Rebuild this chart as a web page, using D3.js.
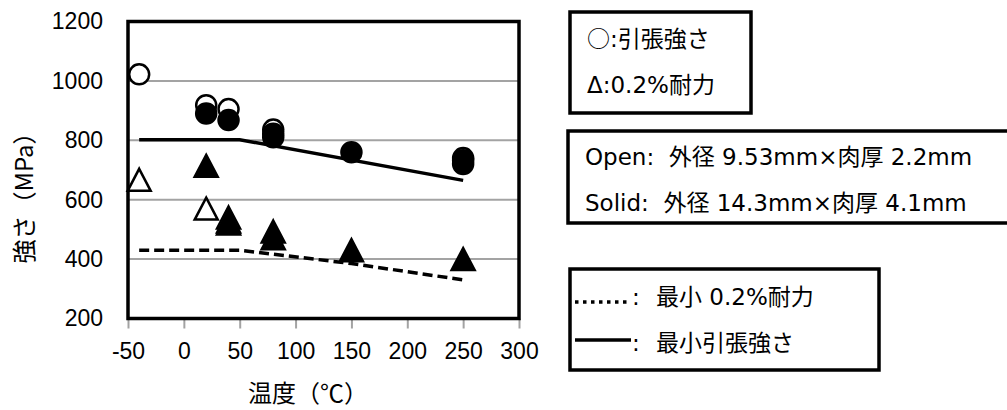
<!DOCTYPE html>
<html>
<head>
<meta charset="utf-8">
<script src="https://cdn.jsdelivr.net/npm/d3@7"></script>
<style>
  body { margin: 0; background: #fff; }
  svg { display: block; }
  text { white-space: pre; }
</style>
</head>
<body>
<svg id="svg" width="1007" height="410"></svg>
<script>
// measured points (temperature, MPa)
let openTensile = [{t: -40, v: 1022}, {t: 20, v: 918}, {t: 40, v: 905}, {t: 80, v: 836}, {t: 250, v: 740}];
let solidTensile = [{t: 20, v: 890}, {t: 40, v: 868}, {t: 80, v: 822}, {t: 80, v: 810}, {t: 150, v: 760}, {t: 250, v: 733}, {t: 250, v: 720}];
let openYield = [{t: -40, v: 667}, {t: 20, v: 570}, {t: 40, v: 540}];
let solidYield = [{t: 20, v: 714}, {t: 40, v: 527}, {t: 40, v: 520}, {t: 80, v: 493}, {t: 80, v: 470}, {t: 150, v: 430}, {t: 250, v: 400}];

// minimum spec lines
let minTensile = [{t: -40, v: 802}, {t: 50, v: 802}, {t: 250, v: 665}];
let minYield = [{t: -40, v: 430}, {t: 50, v: 430}, {t: 150, v: 385}, {t: 250, v: 330}];

let xTicks = [-50, 0, 50, 100, 150, 200, 250, 300];
let yTicks = [200, 400, 600, 800, 1000, 1200];
let gridValues = [400, 600, 800, 1000];

let legendMarks = [["○", ":引張強さ"], ["Δ", ":0.2%耐力"]];
let legendSizes = ["Open:  外径 9.53mm×肉厚 2.2mm", "Solid:  外径 14.3mm×肉厚 4.1mm"];
let legendLines = ["最小 0.2%耐力", "最小引張強さ"];

let svg = d3.select("svg");
let axisFont = "'Liberation Sans', Arial, sans-serif";
let jpFont = "'DejaVu Sans', 'Noto Sans CJK JP', sans-serif";
let cjkFont = "'Noto Sans CJK JP', sans-serif";

let x = d3.scaleLinear().domain([-50, 300]).range([128, 519]);
let y = d3.scaleLinear().domain([200, 1200]).range([318.5, 21.5]);

// gridlines
svg.append("g").selectAll("line")
  .data(gridValues)
  .enter().append("line")
    .attr("x1", x(-50)).attr("x2", x(300))
    .attr("y1", d => y(d)).attr("y2", d => y(d))
    .attr("stroke", "#a3a3a3")
    .attr("stroke-width", 2);

// x axis ticks + labels
let xAxis = svg.append("g")
  .attr("transform", "translate(0," + y(200) + ")")
  .call(d3.axisBottom(x).tickValues(xTicks).tickSize(10).tickPadding(14).tickFormat(d => String(d)));
xAxis.select(".domain").remove();
xAxis.selectAll(".tick line").attr("stroke", "#a3a3a3").attr("stroke-width", 2);
xAxis.selectAll(".tick text")
  .attr("font-family", axisFont).attr("font-size", 23).attr("fill", "#000");

// y axis labels
let yAxis = svg.append("g")
  .attr("transform", "translate(" + x(-50) + ",0)")
  .call(d3.axisLeft(y).tickValues(yTicks).tickSize(0).tickPadding(25).tickFormat(d => String(d)));
yAxis.select(".domain").remove();
yAxis.selectAll(".tick text")
  .attr("font-family", axisFont).attr("font-size", 23).attr("fill", "#000");

// frame
svg.append("rect")
  .attr("x", x(-50)).attr("y", y(1200))
  .attr("width", x(300) - x(-50)).attr("height", y(200) - y(1200))
  .attr("fill", "none").attr("stroke", "#000").attr("stroke-width", 3.5);

// axis titles
svg.append("text")
  .attr("x", 248).attr("y", 402)
  .attr("font-family", cjkFont).attr("font-size", 24)
  .text("温度（℃）");
svg.append("text")
  .attr("transform", "translate(33,192) rotate(-90)")
  .attr("text-anchor", "middle")
  .attr("font-family", cjkFont).attr("font-size", 24)
  .text("強さ（MPa）");

// spec lines
let line = d3.line().x(d => x(d.t)).y(d => y(d.v));
svg.append("path")
  .datum(minTensile)
  .attr("fill", "none").attr("stroke", "#000").attr("stroke-width", 3.5)
  .attr("d", line);
svg.append("path")
  .datum(minYield)
  .attr("fill", "none").attr("stroke", "#000").attr("stroke-width", 3.5)
  .attr("stroke-dasharray", "10,5")
  .attr("d", line);

// markers
let tri = "M0,-11L11.5,11L-11.5,11Z";
function circles(data, fill) {
  svg.append("g").selectAll("circle")
    .data(data)
    .enter().append("circle")
      .attr("cx", d => x(d.t)).attr("cy", d => y(d.v))
      .attr("r", 10)
      .attr("fill", fill).attr("stroke", "#000").attr("stroke-width", 2.5);
}
function triangles(data, fill) {
  svg.append("g").selectAll("path")
    .data(data)
    .enter().append("path")
      .attr("transform", d => "translate(" + x(d.t) + "," + y(d.v) + ")")
      .attr("d", tri)
      .attr("fill", fill).attr("stroke", "#000").attr("stroke-width", 2.5)
      .attr("stroke-linejoin", "miter");
}
circles(openTensile, "#fff");
circles(solidTensile, "#000");
triangles(openYield, "#fff");
triangles(solidYield, "#000");

// legend boxes
function box(x0, y0, w, h) {
  svg.append("rect")
    .attr("x", x0).attr("y", y0).attr("width", w).attr("height", h)
    .attr("fill", "#fff").attr("stroke", "#000").attr("stroke-width", 3.5);
}
box(570, 12, 181, 101);
legendMarks.forEach((s, i) => {
  let t = svg.append("text")
    .attr("x", 587).attr("y", 47 + i * 46)
    .attr("font-family", jpFont).attr("font-size", 23);
  t.append("tspan").attr("font-family", i == 0 ? cjkFont : jpFont).text(s[0]);
  t.append("tspan").text(s[1]);
});

box(568, 131, 460, 92);
legendSizes.forEach((s, i) => {
  svg.append("text")
    .attr("x", 585).attr("y", 165 + i * 46)
    .attr("font-family", jpFont).attr("font-size", 23)
    .text(s);
});

box(570, 269, 309, 101);
svg.append("line")
  .attr("x1", 575).attr("x2", 631).attr("y1", 302).attr("y2", 302)
  .attr("stroke", "#000").attr("stroke-width", 3.5).attr("stroke-dasharray", "3.5,4.5");
svg.append("line")
  .attr("x1", 575).attr("x2", 631).attr("y1", 340).attr("y2", 340)
  .attr("stroke", "#000").attr("stroke-width", 3.5);
legendLines.forEach((s, i) => {
  svg.append("text")
    .attr("x", 632).attr("y", 305 + i * 46)
    .attr("font-family", jpFont).attr("font-size", 23)
    .text(":");
  svg.append("text")
    .attr("x", 656).attr("y", 305 + i * 46)
    .attr("font-family", jpFont).attr("font-size", 23)
    .text(s);
});
</script>
</body>
</html>
